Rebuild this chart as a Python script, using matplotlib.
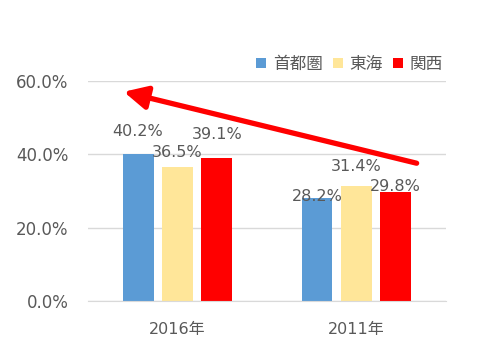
import numpy as np
import matplotlib
matplotlib.use("Agg")
import matplotlib.pyplot as plt
from matplotlib.ticker import PercentFormatter

plt.rcParams['font.family'] = ['DejaVu Sans', 'Noto Sans CJK JP']

years = ["2016年", "2011年"]
regions = ["首都圏", "東海", "関西"]
shutoken = [40.2, 28.2]
tokai = [36.5, 31.4]
kansai = [39.1, 29.8]
values = [shutoken, tokai, kansai]

colors = ["#5B9BD5", "#FFE699", "#FF0000"]
GREY = "#595959"
# label offsets above bar top (pixels), hand placed like the original
lab_dy = [[22, 1], [15, 19], [23, 5]]

fig = plt.figure(figsize=(4.97, 3.59), dpi=100)
ax = fig.add_axes([0.177, 0.1616, 0.72, 0.6124])

x = np.arange(len(years))
offs = [-0.22, 0.0, 0.22]
w = 0.173
for k in range(3):
    v = np.array(values[k]) / 100
    ax.bar(x + offs[k], v, w, color=colors[k], label=regions[k], zorder=2)
    for i in range(len(years)):
        ax.annotate(f"{values[k][i]:.1f}%", (x[i] + offs[k], v[i]),
                    xytext=(0, lab_dy[k][i]), textcoords="offset pixels",
                    ha="center", va="center", fontsize=11.5, color=GREY, zorder=4)

ax.set_xlim(-0.5, 1.5)
ax.set_ylim(0, 0.6)
ax.set_yticks([0, 0.2, 0.4, 0.6])
ax.yaxis.set_major_formatter(PercentFormatter(1.0, decimals=1))
ax.set_xticks(x)
ax.set_xticklabels(years)
ax.tick_params(length=0, colors=GREY, labelsize=12)
ax.tick_params(axis="x", labelsize=11.5, pad=15)
ax.tick_params(axis="y", pad=14)
ax.grid(axis="y", color="#D9D9D9", lw=1, zorder=0)
for s in ["top", "right", "left"]:
    ax.spines[s].set_visible(False)
ax.spines["bottom"].set_color("#D9D9D9")

# trend arrow
ax.annotate("", xy=(-0.30, 0.571), xytext=(1.337, 0.376),
            arrowprops=dict(arrowstyle="-|>,head_length=1.4,head_width=0.7",
                            color="#FF0000", lw=3.8, shrinkA=0, shrinkB=0),
            annotation_clip=False, zorder=5)

leg = ax.legend(loc="lower right", bbox_to_anchor=(1.015, 1.0), ncol=3, frameon=False,
                fontsize=12, handlelength=0.6, handleheight=0.6, handletextpad=0.4,
                columnspacing=0.6, borderaxespad=0.1)
for t in leg.get_texts():
    t.set_color(GREY)

fig.savefig("out.png", dpi=100, facecolor="white")
